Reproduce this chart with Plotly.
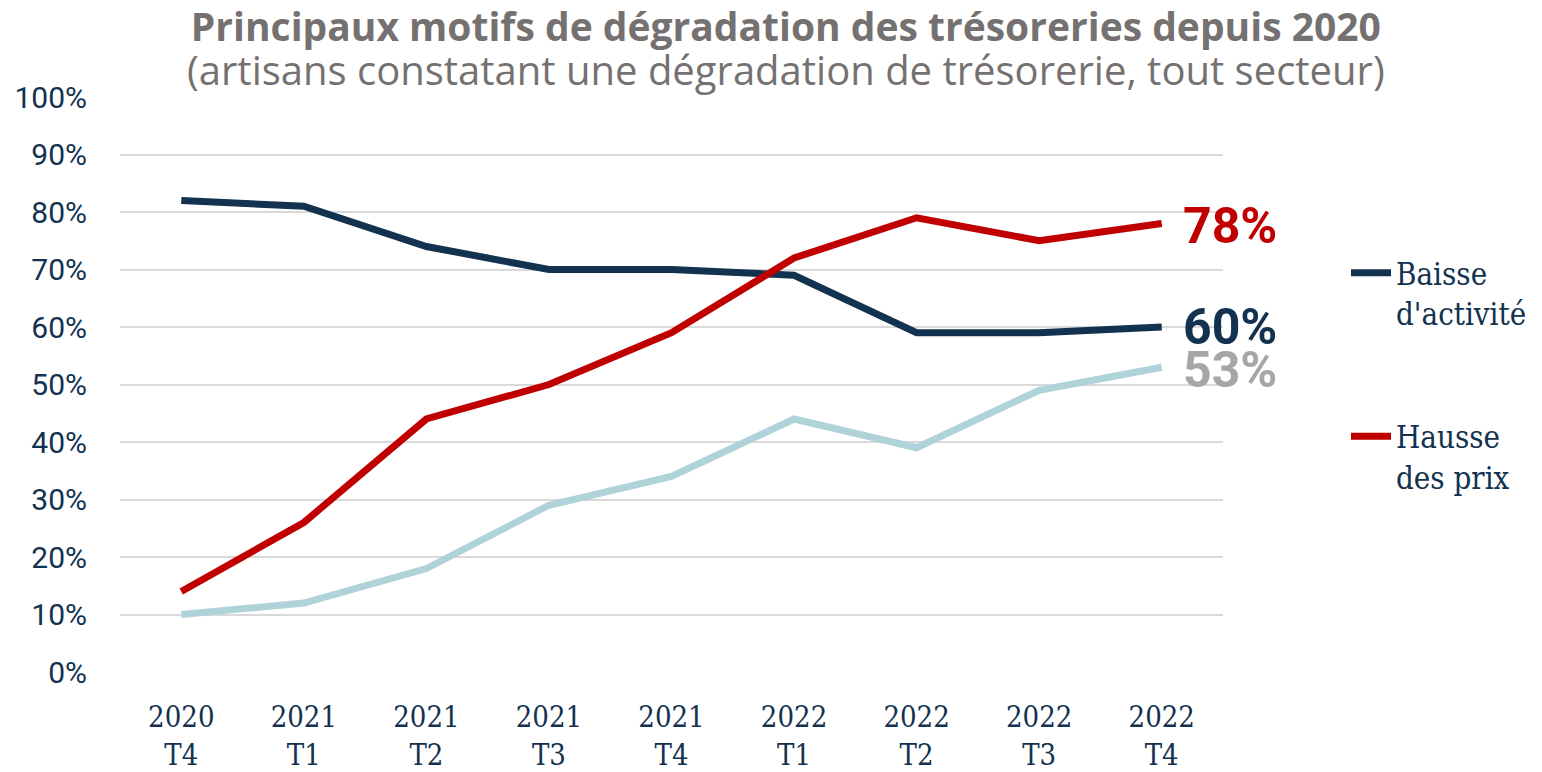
import plotly.graph_objects as go

categories = ["2020<br>T4", "2021<br>T1", "2021<br>T2", "2021<br>T3", "2021<br>T4",
              "2022<br>T1", "2022<br>T2", "2022<br>T3", "2022<br>T4"]
baisse_activite = [82, 81, 74, 70, 70, 69, 59, 59, 60]
hausse_prix = [14, 26, 44, 50, 59, 72, 79, 75, 78]
autre = [10, 12, 18, 29, 34, 44, 39, 49, 53]
y_ticks = [0, 10, 20, 30, 40, 50, 60, 70, 80, 90, 100]
y_tick_labels = [f"{v}%" for v in y_ticks]

NAVY = "#12324f"
RED = "#c00000"
LIGHT = "#afd3d9"
GRAY_LBL = "#a6a6a6"
TITLE_GRAY = "#767171"

# the page body has an 8px margin: compensate
W, H = 1534, 764
L, R, T, B = 112, 319, 89, 100
PW = W - L - R
PH = H - T - B

def px_x(sx):
    return (sx - 8 - L) / PW

def px_y(sy):
    return 1 - (sy - 8 - T) / PH

fig = go.Figure()
fig.add_trace(go.Scatter(x=categories, y=autre, mode="lines", name="Autre",
                         line=dict(color=LIGHT, width=7), showlegend=False))
fig.add_trace(go.Scatter(x=categories, y=baisse_activite, mode="lines",
                         name="Baisse<br>d'activité", legendgroup="a",
                         line=dict(color=NAVY, width=7)))
fig.add_trace(go.Scatter(x=categories, y=hausse_prix, mode="lines",
                         name="Hausse<br>des prix", legendgroup="b",
                         line=dict(color=RED, width=7)))

end_labels = [(hausse_prix, RED, -2), (baisse_activite, NAVY, 0), (autre, GRAY_LBL, -3)]
for series, color, ys in end_labels:
    fig.add_annotation(x=categories[-1], y=series[-1], text=f"<b>{series[-1]}%</b>",
                       showarrow=False, xanchor="left", xshift=19, yshift=ys,
                       font=dict(family="Roboto, sans-serif", size=50, color=color))

title_text = ("<span style='font-size:39px'><b>Principaux motifs de dégradation des trésoreries depuis 2020</b></span>"
              "<br><span style='font-size:40px'>(artisans constatant une dégradation de trésorerie, tout secteur)</span>")
fig.add_annotation(xref="paper", yref="paper", x=px_x(786), y=px_y(48),
                   text=title_text, showarrow=False, xanchor="center", yanchor="middle",
                   font=dict(family="Open Sans, sans-serif", size=34, color=TITLE_GRAY))

fig.update_layout(
    width=W, height=H,
    margin=dict(l=L, r=R, t=T, b=B, autoexpand=False),
    plot_bgcolor="white", paper_bgcolor="white",
    legend=dict(x=px_x(1346), y=px_y(246),
                xanchor="left", yanchor="top", tracegroupgap=80, valign="top",
                font=dict(family="DejaVu Serif Condensed, DejaVu Serif, serif", size=31, color=NAVY),
                itemwidth=40),
    xaxis=dict(range=[-0.5, 8.5], showgrid=False, showline=False, zeroline=False,
               ticks="", ticklabelstandoff=25, automargin=False,
               tickfont=dict(family="DejaVu Serif Condensed, DejaVu Serif, serif", size=29, color=NAVY)),
    yaxis=dict(range=[0, 100], tickvals=y_ticks, ticktext=y_tick_labels,
               showgrid=True, gridcolor="#d9d9d9", gridwidth=2, zeroline=False,
               showline=False, ticks="", ticklabelstandoff=32, automargin=False,
               tickfont=dict(family="Roboto, sans-serif", size=30, color=NAVY)),
)

fig.write_html("out.html")
